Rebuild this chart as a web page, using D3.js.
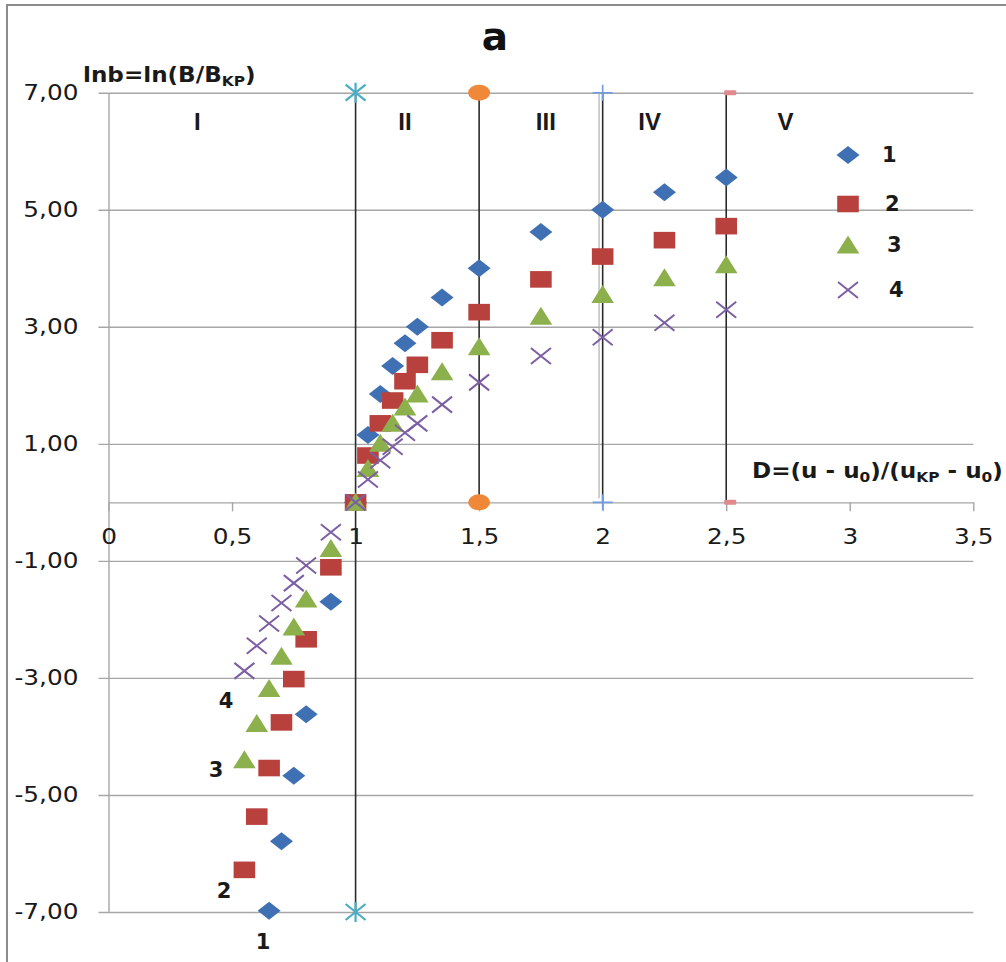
<!DOCTYPE html>
<html>
<head>
<meta charset="utf-8">
<script src="https://cdn.jsdelivr.net/npm/d3@7"></script>
<style>
  body { margin: 0; background: #fff; }
  svg { display: block; }
</style>
</head>
<body>
<script>
// Series data: x = D, y = ln b
const x1 = [0.65, 0.7, 0.75, 0.8, 0.9, 1, 1.05, 1.1, 1.15, 1.2, 1.25, 1.35, 1.5, 1.75, 2, 2.25, 2.5];
const y1 = [-6.98, -5.79, -4.67, -3.62, -1.7, 0, 1.15, 1.85, 2.33, 2.72, 3.0, 3.5, 4.0, 4.62, 5.0, 5.3, 5.55];

const x2 = [0.55, 0.6, 0.65, 0.7, 0.75, 0.8, 0.9, 1, 1.05, 1.1, 1.15, 1.2, 1.25, 1.35, 1.5, 1.75, 2, 2.25, 2.5];
const y2 = [-6.28, -5.37, -4.54, -3.76, -3.02, -2.34, -1.11, 0, 0.8, 1.35, 1.74, 2.07, 2.35, 2.77, 3.25, 3.81, 4.2, 4.48, 4.72];

const x3 = [0.55, 0.6, 0.65, 0.7, 0.75, 0.8, 0.9, 1, 1.05, 1.1, 1.15, 1.2, 1.25, 1.35, 1.5, 1.75, 2, 2.25, 2.5];
const y3 = [-4.4, -3.78, -3.18, -2.63, -2.13, -1.65, -0.79, 0, 0.58, 1.01, 1.35, 1.63, 1.85, 2.23, 2.66, 3.18, 3.55, 3.84, 4.06];

const x4 = [0.55, 0.6, 0.65, 0.7, 0.75, 0.8, 0.9, 1, 1.05, 1.1, 1.15, 1.2, 1.25, 1.35, 1.5, 1.75, 2, 2.25, 2.5];
const y4 = [-2.88, -2.45, -2.07, -1.72, -1.38, -1.08, -0.51, 0, 0.39, 0.72, 0.95, 1.19, 1.35, 1.67, 2.05, 2.5, 2.82, 3.07, 3.29];

const seriesNames = ["1", "2", "3", "4"];

// Zone boundaries (vertical lines) and zone labels
const boundX = [1, 1.5, 2, 2.5];
const boundFrom = [-7, 0, 0, 0];
const boundTo = [7, 7, 7, 7];
const zoneNames = ["I", "II", "III", "IV", "V"];
const zoneX = [0.36, 1.2, 1.77, 2.19, 2.74];

const xTicks = [0, 0.5, 1, 1.5, 2, 2.5, 3, 3.5];
const yTicks = [-7, -5, -3, -1, 1, 3, 5, 7];

const W = 1006, H = 962;
const svg = d3.select("body").append("svg")
    .attr("width", W)
    .attr("height", H)
    .style("font-family", "'DejaVu Sans', Verdana, sans-serif");

svg.append("rect").attr("width", W).attr("height", H).attr("fill", "#fff");

// outer frame (left and top edge visible)
svg.append("path")
    .attr("d", "M7,962 V5 H1006")
    .attr("fill", "none")
    .attr("stroke", "#8c8c8c")
    .attr("stroke-width", 2);

const x = d3.scaleLinear().domain([0, 3.5]).range([108.5, 973.3]);
const y = d3.scaleLinear().domain([-7, 7]).range([912, 92.7]);

const gridColor = "#a6a6a6";
const fmt = v => d3.format(".2f")(v).replace(".", ",").replace("−", "-");

// horizontal gridlines and y axis
const yAxis = d3.axisLeft(y)
    .tickValues(yTicks)
    .tickSize(10)
    .tickSizeOuter(0)
    .tickFormat(fmt);

const gy = svg.append("g")
    .attr("transform", `translate(${x(0)},0)`)
    .call(yAxis);
gy.select(".domain").attr("stroke", gridColor).attr("stroke-width", 1.4);
gy.selectAll(".tick line")
    .attr("x2", x(3.5) - x(0))
    .attr("x1", -10)
    .attr("stroke", gridColor)
    .attr("stroke-width", 1.4);
gy.selectAll(".tick text")
    .attr("x", 0)
    .attr("transform", "translate(-30,0) scale(1.18,1)")
    .attr("fill", "#1a1a1a")
    .style("font-size", "21px")
    .style("font-family", "'DejaVu Sans', Verdana, sans-serif");

// x axis at y = 0
const xAxis = d3.axisBottom(x)
    .tickValues(xTicks)
    .tickSize(9)
    .tickSizeOuter(0)
    .tickPadding(18)
    .tickFormat(v => String(v).replace(".", ","));

const gx = svg.append("g")
    .attr("transform", `translate(0,${y(0)})`)
    .call(xAxis);
gx.select(".domain").attr("stroke", gridColor).attr("stroke-width", 1.4);
gx.selectAll(".tick line").attr("stroke", gridColor).attr("stroke-width", 1.4);
gx.selectAll(".tick text")
    .attr("transform", "scale(1.18,1)")
    .attr("fill", "#1a1a1a")
    .style("font-size", "21px")
    .style("font-family", "'DejaVu Sans', Verdana, sans-serif");

// light gray line just left of D = 2
svg.append("line")
    .attr("x1", x(2) - 3.6).attr("x2", x(2) - 3.6)
    .attr("y1", y(7)).attr("y2", y(0) - 4)
    .attr("stroke", "#b0b0b0")
    .attr("stroke-width", 1.2);

// zone boundaries
svg.selectAll("line.bound")
    .data(boundX)
    .join("line")
    .attr("class", "bound")
    .attr("x1", d => x(d)).attr("x2", d => x(d))
    .attr("y1", (d, i) => y(boundTo[i]))
    .attr("y2", (d, i) => y(boundFrom[i]))
    .attr("stroke", "#2b2b2b")
    .attr("stroke-width", 1.6);

// end markers of the boundary lines
const ends = i => [boundFrom[i], boundTo[i]];
// D = 1 : asterisk
ends(0).forEach(v => {
    svg.append("path")
        .attr("transform", `translate(${x(boundX[0])},${y(v)})`)
        .attr("d", "M-10,-8L10,8M-10,8L10,-8M0,-10V10")
        .attr("stroke", "#4bacc6")
        .attr("stroke-width", 2.2)
        .attr("fill", "none");
});
// D = 1.5 : circle
ends(1).forEach(v => {
    svg.append("ellipse")
        .attr("cx", x(boundX[1])).attr("cy", y(v))
        .attr("rx", 11).attr("ry", 8)
        .attr("fill", "#f0883a");
});
// D = 2 : plus
ends(2).forEach(v => {
    svg.append("path")
        .attr("transform", `translate(${x(boundX[2])},${y(v)})`)
        .attr("d", "M-10,0H10M0,-8V8")
        .attr("stroke", "#6f9be0")
        .attr("stroke-width", 1.6)
        .attr("fill", "none");
});
// D = 2.5 : dash
ends(3).forEach(v => {
    svg.append("rect")
        .attr("x", x(boundX[3]) - 2).attr("y", y(v) - 2.5)
        .attr("width", 12).attr("height", 5)
        .attr("rx", 1)
        .attr("fill", "#e08a8f");
});

// marker shapes (slightly wider than tall, like the source)
const shapes = {
    diamond: "M-11.5,0L0,-9L11.5,0L0,9Z",
    square: "M-10.8,-8.3H10.8V8.3H-10.8Z",
    triangle: "M0,-9.5L11.3,8.5H-11.3Z",
    cross: "M-10,-8L10,8M-10,8L10,-8"
};
const series = [
    {xs: x1, ys: y1, shape: "diamond", color: "#3f70b3"},
    {xs: x2, ys: y2, shape: "square", color: "#b8413e"},
    {xs: x3, ys: y3, shape: "triangle", color: "#8cb04b"},
    {xs: x4, ys: y4, shape: "cross", color: "#7c5fa3"}
];

function drawMarker(g, s) {
    const p = g.append("path").attr("d", shapes[s.shape]);
    if (s.shape === "cross") {
        p.attr("fill", "none").attr("stroke", s.color).attr("stroke-width", 2);
    } else {
        p.attr("fill", s.color);
    }
}

series.forEach(s => {
    const pts = s.xs.map((v, i) => [v, s.ys[i]]);
    svg.append("g").selectAll("g")
        .data(pts)
        .join("g")
        .attr("transform", d => `translate(${x(d[0])},${y(d[1])})`)
        .each(function () { drawMarker(d3.select(this), s); });
});

// legend
const legendY = [155, 204, 245, 290];
const legendLabelX = [882, 885, 887, 889];
series.forEach((s, i) => {
    const g = svg.append("g").attr("transform", `translate(848,${legendY[i]})`);
    drawMarker(g, s);
    svg.append("text")
        .attr("x", legendLabelX[i])
        .attr("y", legendY[i] + 7)
        .attr("font-weight", "bold")
        .attr("font-size", 21)
        .attr("fill", "#1a1a1a")
        .text(seriesNames[i]);
});

// zone labels
svg.selectAll("text.zone")
    .data(zoneNames)
    .join("text")
    .attr("class", "zone")
    .attr("x", (d, i) => x(zoneX[i]))
    .attr("y", 130)
    .attr("text-anchor", "middle")
    .attr("font-family", "'Liberation Sans', Arial, sans-serif")
    .attr("font-weight", "bold")
    .attr("font-size", 24)
    .attr("fill", "#1a1a1a")
    .text(d => d);

// curve labels near the lower ends
const curveLabelX = [263, 224, 216, 226];
const curveLabelY = [949, 898, 777, 708];
seriesNames.forEach((n, i) => {
    svg.append("text")
        .attr("x", curveLabelX[i])
        .attr("y", curveLabelY[i])
        .attr("text-anchor", "middle")
        .attr("font-weight", "bold")
        .attr("font-size", 21)
        .attr("fill", "#1a1a1a")
        .text(n);
});

// title
svg.append("text")
    .attr("x", 495).attr("y", 50)
    .attr("text-anchor", "middle")
    .attr("font-weight", "bold")
    .attr("font-size", 39)
    .attr("fill", "#111")
    .text("a");

// axis titles
const yTitle = svg.append("text")
    .attr("transform", "translate(83,82) scale(1.1,1)")
    .attr("font-weight", "bold")
    .attr("font-size", 21)
    .attr("fill", "#1a1a1a");
yTitle.append("tspan").text("lnb=ln(B/B");
yTitle.append("tspan").attr("font-size", 14).attr("dy", 4).text("KP");
yTitle.append("tspan").attr("dy", -4).text(")");

const xTitle = svg.append("text")
    .attr("transform", "translate(752,478) scale(1.1,1)")
    .attr("font-weight", "bold")
    .attr("font-size", 21)
    .attr("fill", "#1a1a1a");
xTitle.append("tspan").text("D=(u - u");
xTitle.append("tspan").attr("font-size", 14).attr("dy", 4).text("0");
xTitle.append("tspan").attr("dy", -4).text(")/(u");
xTitle.append("tspan").attr("font-size", 14).attr("dy", 4).text("KP");
xTitle.append("tspan").attr("dy", -4).text(" - u");
xTitle.append("tspan").attr("font-size", 14).attr("dy", 4).text("0");
xTitle.append("tspan").attr("dy", -4).text(")");
</script>
</body>
</html>
